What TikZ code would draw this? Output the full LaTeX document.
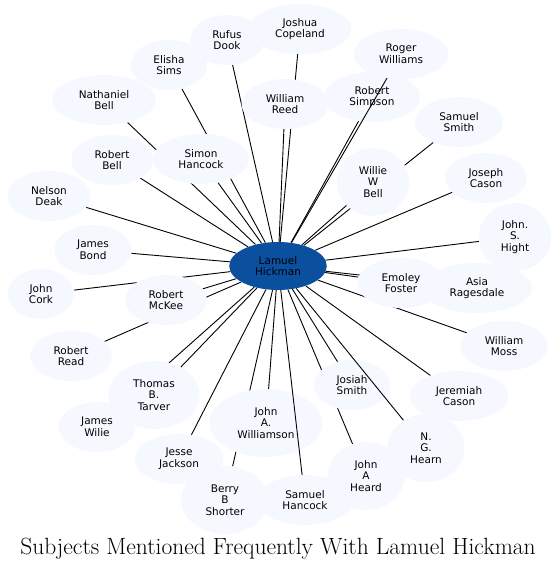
\documentclass[tikz,border=0pt]{standalone}
\usepackage{fontspec}
\usepackage{tikz}
\usetikzlibrary{shapes.geometric}
\usepackage{xcolor}
\definecolor{hickblue}{RGB}{10, 80, 158}
\definecolor{subjbg}{RGB}{245, 249, 255}
\newfontfamily\subjfont{DejaVu Sans}
\pgfdeclarelayer{background}
\pgfsetlayers{background,main}

\begin{document}
\begin{tikzpicture}[
  x=1pt, y=-1pt,
  subj/.style={ellipse, fill=subjbg, align=center, inner xsep=11.5pt,
               inner ysep=6pt, minimum height=50pt,
               font=\subjfont\fontsize{10.5}{11.7}\selectfont},
  tall/.style={subj, minimum height=68pt},
  hubnode/.style={subj, fill=hickblue, minimum height=48pt},
  link/.style={line width=0.9pt, black}
]
  \useasboundingbox (0,0) rectangle (557,569);

  \node[hubnode] (lamuel) at (278,266) {Lamuel\\Hickman};

  \node[subj] (rufus) at (227,40) {Rufus\\Dook};
  \node[subj] (joshua) at (300,29) {Joshua\\Copeland};
  \node[subj] (elisha) at (169,65) {Elisha\\Sims};
  \node[subj] (nathaniel) at (104,100) {Nathaniel\\Bell};
  \node[subj] (roger) at (401,54) {Roger\\Williams};
  \node[subj] (wreed) at (285,104) {William\\Reed};
  \node[subj] (rsimpson) at (372,97) {Robert\\Simpson};
  \node[subj] (ssmith) at (459,122) {Samuel\\Smith};
  \node[subj] (simon) at (201,159) {Simon\\Hancock};
  \node[subj] (rbell) at (112,160) {Robert\\Bell};
  \node[tall] (willie) at (373,182) {Willie\\W\\Bell};
  \node[subj] (jcason) at (486,178) {Joseph\\Cason};
  \node[subj] (nelson) at (49,196) {Nelson\\Deak};
  \node[subj] (jbond) at (93,250) {James\\Bond};
  \node[tall] (hight) at (515,237) {John.\\S.\\Hight};
  \node[subj] (jcork) at (41,294) {John\\Cork};
  \node[subj] (mckee) at (166,300) {Robert\\McKee};
  \node[subj] (emoley) at (401,283) {Emoley\\Foster};
  \node[subj] (asia) at (477,288) {Asia\\Ragesdale};
  \node[subj] (rread) at (71,356) {Robert\\Read};
  \node[subj] (wmoss) at (504,346) {William\\Moss};
  \node[subj] (wilie) at (97,427) {James\\Wilie};
  \node[tall] (tarver) at (154,395) {Thomas\\B.\\Tarver};
  \node[subj] (josiah) at (352,385) {Josiah\\Smith};
  \node[subj] (jeremiah) at (459,396) {Jeremiah\\Cason};
  \node[tall] (williamson) at (266,423) {John\\A.\\Williamson};
  \node[subj] (jesse) at (179,459) {Jesse\\Jackson};
  \node[tall] (berry) at (225,500) {Berry\\B\\Shorter};
  \node[subj] (shancock) at (305,500) {Samuel\\Hancock};
  \node[tall] (heard) at (366,476) {John\\A\\Heard};
  \node[tall] (hearn) at (426,448) {N.\\G.\\Hearn};

  \node[anchor=base, font=\fontsize{23.5}{28}\selectfont] (title) at (278,554)
    {Subjects Mentioned Frequently With Lamuel Hickman};

  % most links sit behind the ellipses
  \begin{pgfonlayer}{background}
    \draw[link] (lamuel) -- (rufus);
    \draw[link] (lamuel) -- (joshua);
    \draw[link] (lamuel) -- (elisha);
    \draw[link] (lamuel) -- (nathaniel);
    \draw[link] (lamuel) -- (wreed);
    \draw[link] (lamuel) -- (rsimpson);
    \draw[link] (lamuel) -- (ssmith);
    \draw[link] (lamuel) -- (simon);
    \draw[link] (lamuel) -- (rbell);
    \draw[link] (lamuel) -- (willie);
    \draw[link] (lamuel) -- (jcason);
    \draw[link] (lamuel) -- (nelson);
    \draw[link] (lamuel) -- (jbond);
    \draw[link] (lamuel) -- (hight);
    \draw[link] (lamuel) -- (jcork);
    \draw[link] (lamuel) -- (mckee);
    \draw[link] (lamuel) -- (emoley);
    \draw[link] (lamuel) -- (asia);
    \draw[link] (lamuel) -- (rread);
    \draw[link] (lamuel) -- (wmoss);
    \draw[link] (lamuel) -- (wilie);
    \draw[link] (lamuel) -- (tarver);
    \draw[link] (lamuel) -- (josiah);
    \draw[link] (lamuel) -- (jeremiah);
    \draw[link] (lamuel) -- (williamson);
    \draw[link] (lamuel) -- (jesse);
    \draw[link] (lamuel) -- (berry);
    \draw[link] (lamuel) -- (heard);
  \end{pgfonlayer}

  % these three cross over other names
  \draw[link] (lamuel) -- (roger);
  \draw[link] (lamuel) -- (hearn);
  \draw[link] (lamuel) -- (shancock);
\end{tikzpicture}
\end{document}
